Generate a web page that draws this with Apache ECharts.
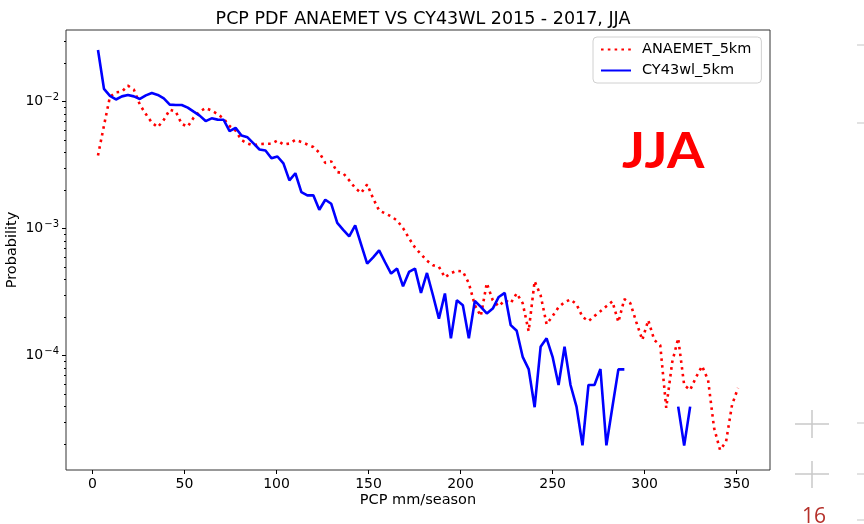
<!DOCTYPE html>
<html><head><meta charset="utf-8">
<script src="https://cdn.jsdelivr.net/npm/echarts@6/dist/echarts.min.js"></script>
<style>html,body{margin:0;padding:0;background:#fff}#c{width:864px;height:524px}</style>
</head><body><div id="c"></div>
<script>
// PCP bin centres (mm/season)
const pcp = [
  3, 6.25, 9.5, 12.75, 16, 19.25, 22.5, 25.75, 29, 32.25,
  35.5, 38.75, 42, 45.25, 48.5, 51.75, 55, 58.25, 61.5, 64.75,
  68, 71.25, 74.5, 77.75, 81, 84.25, 87.5, 90.75, 94, 97.25,
  100.5, 103.75, 107, 110.25, 113.5, 116.75, 120, 123.25, 126.5, 129.75,
  133, 136.25, 139.5, 142.75, 146, 149.25, 152.5, 155.75, 159, 162.25,
  165.5, 168.75, 172, 175.25, 178.5, 181.75, 185, 188.25, 191.5, 194.75,
  198, 201.25, 204.5, 207.75, 211, 214.25, 217.5, 220.75, 224, 227.25,
  230.5, 233.75, 237, 240.25, 243.5, 246.75, 250, 253.25, 256.5, 259.75,
  263, 266.25, 269.5, 272.75, 276, 279.25, 282.5, 285.75, 289, 292.25,
  295.5, 298.75, 302, 305.25, 308.5, 311.75, 315, 318.25, 321.5, 324.75,
  328, 331.25, 334.5, 337.75, 341, 344.25, 347.5, 350.75
];
// ANAEMET_5km probability
const anaemet = [
  0.00377, 0.00648, 0.01095, 0.01183, 0.0120, 0.01336, 0.01242, 0.00947, 0.00798, 0.00684,
  0.0063, 0.00718, 0.00865, 0.00834, 0.00666, 0.00636, 0.00749, 0.00834, 0.00892, 0.0085,
  0.00798, 0.00735, 0.00642, 0.00592, 0.00498, 0.00468, 0.00451, 0.00464, 0.00466, 0.00466,
  0.00494, 0.0046, 0.00468, 0.005, 0.00481, 0.0046, 0.00439, 0.00397, 0.00329, 0.00338,
  0.00279, 0.00273, 0.0024, 0.00209, 0.00191, 0.00223, 0.00173, 0.00139, 0.00132, 0.00125,
  0.00116, 0.00101, 0.00084, 0.00071, 0.00063, 0.00056, 0.000515, 0.0005, 0.000414, 0.000446,
  0.000466, 0.00046, 0.000372, 0.00025, 0.000205, 0.000372, 0.000273, 0.000245, 0.000273, 0.000259,
  0.00031, 0.000259, 0.000156, 0.000386, 0.000299, 0.000177, 0.000205, 0.000241, 0.000264, 0.000277,
  0.000254, 0.000202, 0.000187, 0.000205, 0.000224, 0.000245, 0.000268, 0.000184, 0.000279, 0.000259,
  0.000184, 0.000133, 0.00019, 0.000133, 0.000121, 0.0000388, 0.000089, 0.000137, 0.0000588, 0.0000537,
  0.0000679, 0.0000828, 0.0000643, 0.000027, 0.0000181, 0.000021, 0.0000409, 0.0000557
];
// CY43wl_5km probability (null = empty bin)
const cy43 = [
  0.0255, 0.0126, 0.0111, 0.0104, 0.0110, 0.0113, 0.0110, 0.0105, 0.0112, 0.0117,
  0.0113, 0.0106, 0.00947, 0.0094, 0.0094, 0.00897, 0.00834, 0.00776, 0.00703, 0.00739,
  0.00722, 0.0072, 0.00586, 0.00621, 0.00541, 0.00524, 0.0047, 0.0042, 0.00412, 0.00358,
  0.0037, 0.00327, 0.0024, 0.00273, 0.00194, 0.00183, 0.00183, 0.00141, 0.00169, 0.00157,
  0.00111, 0.00098, 0.00087, 0.00106, 0.00075, 0.00053, 0.000595, 0.000675, 0.000544, 0.000443,
  0.000485, 0.000352, 0.000456, 0.000485, 0.000312, 0.000448, 0.000299, 0.000196, 0.000309, 0.000137,
  0.000273, 0.00025, 0.000137, 0.00027, 0.000242, 0.000215, 0.000235, 0.00029, 0.000312, 0.000174,
  0.000157, 0.000098, 0.0000785, 0.0000393, 0.0001175, 0.000137, 0.000098, 0.0000588, 0.0001175, 0.0000588,
  0.0000397, 0.0000197, 0.0000588, 0.0000588, 0.0000785, 0.0000197, 0.0000395, 0.000078, 0.000078, null,
  null, null, null, null, null, null, null, 0.0000397, 0.0000196, 0.0000397
];
const xTicks = [0, 50, 100, 150, 200, 250, 300, 350];
const yTicks = [1e-4, 1e-3, 1e-2];
const yMinorTicks = [2e-5,3e-5,4e-5,5e-5,6e-5,7e-5,8e-5,9e-5,
  2e-4,3e-4,4e-4,5e-4,6e-4,7e-4,8e-4,9e-4,
  2e-3,3e-3,4e-3,5e-3,6e-3,7e-3,8e-3,9e-3, 2e-2,3e-2];
const seriesNames = ['ANAEMET_5km', 'CY43wl_5km'];
const titleText = 'PCP PDF ANAEMET VS CY43WL 2015 - 2017, JJA';

function pairs(vals) { return vals.map((v, i) => [pcp[i], v]); }

// matplotlib-like 5% margins
const xs = pcp;
const xr = xs[xs.length - 1] - xs[0];
const xMin = xs[0] - 0.05 * xr, xMax = xs[xs.length - 1] + 0.05 * xr;
const allY = anaemet.concat(cy43).filter(v => v != null);
const lmin = Math.log10(Math.min(...allY)), lmax = Math.log10(Math.max(...allY));
const lr = lmax - lmin;
const yMin = Math.pow(10, lmin - 0.05 * lr), yMax = Math.pow(10, lmax + 0.05 * lr);

const FONT = 'DejaVu Sans';
const chart = echarts.init(document.getElementById('c'), null, {renderer: 'canvas'});
const yBase = {
  type: 'log', logBase: 10, min: yMin, max: yMax, position: 'left',
  splitLine: {show: false}, axisLine: {show: false, onZero: false}
};
chart.setOption({
  animation: false,
  backgroundColor: '#fff',
  title: {
    text: titleText, left: 418, top: 5, textAlign: 'center',
    textStyle: {fontFamily: FONT, fontSize: 17.5, fontWeight: 'normal', color: '#000'}
  },
  grid: {left: 66, right: 94, top: 30, bottom: 54, show: true, borderColor: '#333', borderWidth: 1,
    containLabel: false, outerBoundsMode: 'none'},
  legend: {
    orient: 'vertical', left: 593, top: 37,
    padding: [5, 10, 5, 7], itemGap: 6, itemWidth: 30, itemHeight: 14,
    backgroundColor: '#fff', borderColor: '#d0d0d0', borderWidth: 1, borderRadius: 4,
    itemStyle: {opacity: 0},
    textStyle: {fontFamily: FONT, fontSize: 14.5, color: '#000', padding: [0, 0, 0, 6]},
    data: seriesNames
  },
  xAxis: {
    type: 'value', min: xMin, max: xMax,
    name: 'PCP mm/season', nameLocation: 'middle', nameGap: 23, nameMoveOverlap: false,
    nameTextStyle: {fontFamily: FONT, fontSize: 14.5, color: '#000'},
    axisLine: {show: false, onZero: false},
    splitLine: {show: false},
    axisTick: {show: true, length: 4, lineStyle: {color: '#000'}, customValues: xTicks},
    axisLabel: {fontFamily: FONT, fontSize: 14, color: '#000', margin: 7, customValues: xTicks,
      formatter: v => String(v)}
  },
  yAxis: [
    Object.assign({}, yBase, {
      name: 'Probability', nameLocation: 'middle', nameGap: 46, nameMoveOverlap: false,
      nameTextStyle: {fontFamily: FONT, fontSize: 14.5, color: '#000'},
      axisTick: {show: true, length: 4, lineStyle: {color: '#000'}, customValues: yTicks},
      axisLabel: {
        customValues: yTicks, margin: 7, color: '#000', fontFamily: FONT, fontSize: 14,
        formatter: v => '10{s|\u2212' + Math.abs(Math.round(Math.log10(v))) + '}',
        rich: {s: {fontFamily: FONT, fontSize: 10, color: '#000', padding: [0, 0, 9, 1]}}
      }
    }),
    Object.assign({}, yBase, {
      axisTick: {show: true, length: 2, lineStyle: {color: '#000'}, customValues: yMinorTicks},
      axisLabel: {show: false}
    })
  ],
  series: [
    {
      name: seriesNames[0], type: 'line', data: pairs(anaemet), showSymbol: false, symbol: 'none',
      connectNulls: false,
      lineStyle: {color: '#ff0000', width: 2.6, type: [2.6, 4.2], cap: 'butt'},
      itemStyle: {color: '#ff0000'}
    },
    {
      name: seriesNames[1], type: 'line', data: pairs(cy43), showSymbol: false, symbol: 'none',
      connectNulls: false,
      lineStyle: {color: '#0000ff', width: 2.6},
      itemStyle: {color: '#0000ff'}
    }
  ],
  graphic: [
    {type: 'text', x: 622, y: 128, scaleX: 1.1, style: {text: 'JJA', font: 'bold 49px Lato', fill: '#ff0000'}},
    {type: 'line', shape: {x1: 795, y1: 424, x2: 829, y2: 424}, style: {stroke: '#c8c8c8', lineWidth: 1.5}},
    {type: 'line', shape: {x1: 812, y1: 410, x2: 812, y2: 438}, style: {stroke: '#c8c8c8', lineWidth: 1.5}},
    {type: 'line', shape: {x1: 795, y1: 474, x2: 829, y2: 474}, style: {stroke: '#c8c8c8', lineWidth: 1.5}},
    {type: 'line', shape: {x1: 812, y1: 461, x2: 812, y2: 488}, style: {stroke: '#c8c8c8', lineWidth: 1.5}},
    {type: 'line', shape: {x1: 857, y1: 45, x2: 864, y2: 45}, style: {stroke: '#d8d8d8', lineWidth: 1.5}},
    {type: 'line', shape: {x1: 857, y1: 123, x2: 864, y2: 123}, style: {stroke: '#d8d8d8', lineWidth: 1.5}},
    {type: 'line', shape: {x1: 857, y1: 423, x2: 864, y2: 423}, style: {stroke: '#d8d8d8', lineWidth: 1.5}},
    {type: 'line', shape: {x1: 857, y1: 474, x2: 864, y2: 474}, style: {stroke: '#d8d8d8', lineWidth: 1.5}},
    {type: 'line', shape: {x1: 857, y1: 520, x2: 864, y2: 520}, style: {stroke: '#d8d8d8', lineWidth: 1.5}},
    {type: 'text', left: 802, top: 507, style: {text: '16', font: '21px "Open Sans"', fill: '#b5302a'}}
  ]
});
</script></body></html>
